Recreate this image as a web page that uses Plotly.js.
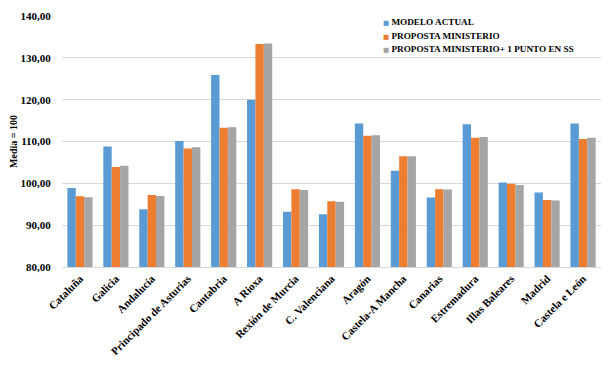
<!DOCTYPE html>
<html>
<head>
<meta charset="utf-8">
<script src="https://cdn.plot.ly/plotly-3.0.1.min.js"></script>
<style>html,body{margin:0;padding:0;background:#fff}#chart{width:608px;height:366px}</style>
</head>
<body>
<div id="chart"></div>
<script>
const categories = ["Cataluña","Galicia","Andalucía","Principado de Asturias","Cantabria","A Rioxa","Rexión de Murcia","C. Valenciana","Aragón","Castela-A Mancha","Canarias","Estremadura","Illas Baleares","Madrid","Castela e León"];
const modeloActual = [98.9, 108.8, 93.8, 110.1, 125.9, 120.0, 93.2, 92.6, 114.3, 103.0, 96.6, 114.1, 100.2, 97.8, 114.3];
const propostaMinisterio = [96.9, 103.9, 97.2, 108.3, 113.3, 133.3, 98.6, 95.7, 111.4, 106.5, 98.6, 110.9, 99.9, 96.0, 110.6];
const propostaMinisterio1SS = [96.7, 104.2, 97.0, 108.6, 113.4, 133.4, 98.4, 95.6, 111.5, 106.5, 98.5, 111.1, 99.6, 95.9, 110.9];
const seriesNames = ["MODELO ACTUAL", "PROPOSTA MINISTERIO", "PROPOSTA MINISTERIO+ 1 PUNTO EN SS"];
const colors = ["#5B9BD5", "#ED7D31", "#A5A5A5"];
const values = [modeloActual, propostaMinisterio, propostaMinisterio1SS];

const font = "Liberation Serif";
const traces = values.map((v, i) => ({
  type: "bar",
  name: seriesNames[i],
  x: categories,
  y: v,
  marker: {color: colors[i]}
}));

// compact legend drawn as text lines (coloured square glyph + series name)
const legendY = [0.976, 0.922, 0.868];
const annotations = seriesNames.map((n, i) => ({
  xref: "paper", yref: "paper",
  x: 0.592, y: legendY[i], xanchor: "left", yanchor: "middle",
  showarrow: false,
  text: '<span style="color:' + colors[i] + ';font-size:6.5px;font-family:DejaVu Sans">■ </span>' + n,
  font: {family: font, size: 9.2, color: "#000", weight: "bold"}
}));

const layout = {
  width: 608, height: 366,
  margin: {l: 62, r: 7, t: 16, b: 99},
  barmode: "group",
  bargap: 0.3,
  bargroupgap: 0,
  separators: ",.",
  paper_bgcolor: "#fff",
  plot_bgcolor: "#fff",
  showlegend: false,
  annotations: annotations,
  xaxis: {
    tickangle: -45,
    tickfont: {family: font, size: 11, color: "#000", weight: "bold"},
    showline: true, linecolor: "#D9D9D9", linewidth: 1,
    ticks: "", showgrid: false
  },
  yaxis: {
    range: [80, 140],
    dtick: 10,
    tickformat: ".2f",
    tickfont: {family: font, size: 11, color: "#000", weight: "bold"},
    gridcolor: "#D9D9D9",
    zeroline: false,
    showline: false,
    ticklen: 8, ticks: "outside", tickcolor: "rgba(0,0,0,0)",
    title: {text: "Media = 100", font: {family: font, size: 10, color: "#000", weight: "bold"}, standoff: 1}
  }
};

Plotly.newPlot("chart", traces, layout, {displayModeBar: false, staticPlot: true});
</script>
</body>
</html>
